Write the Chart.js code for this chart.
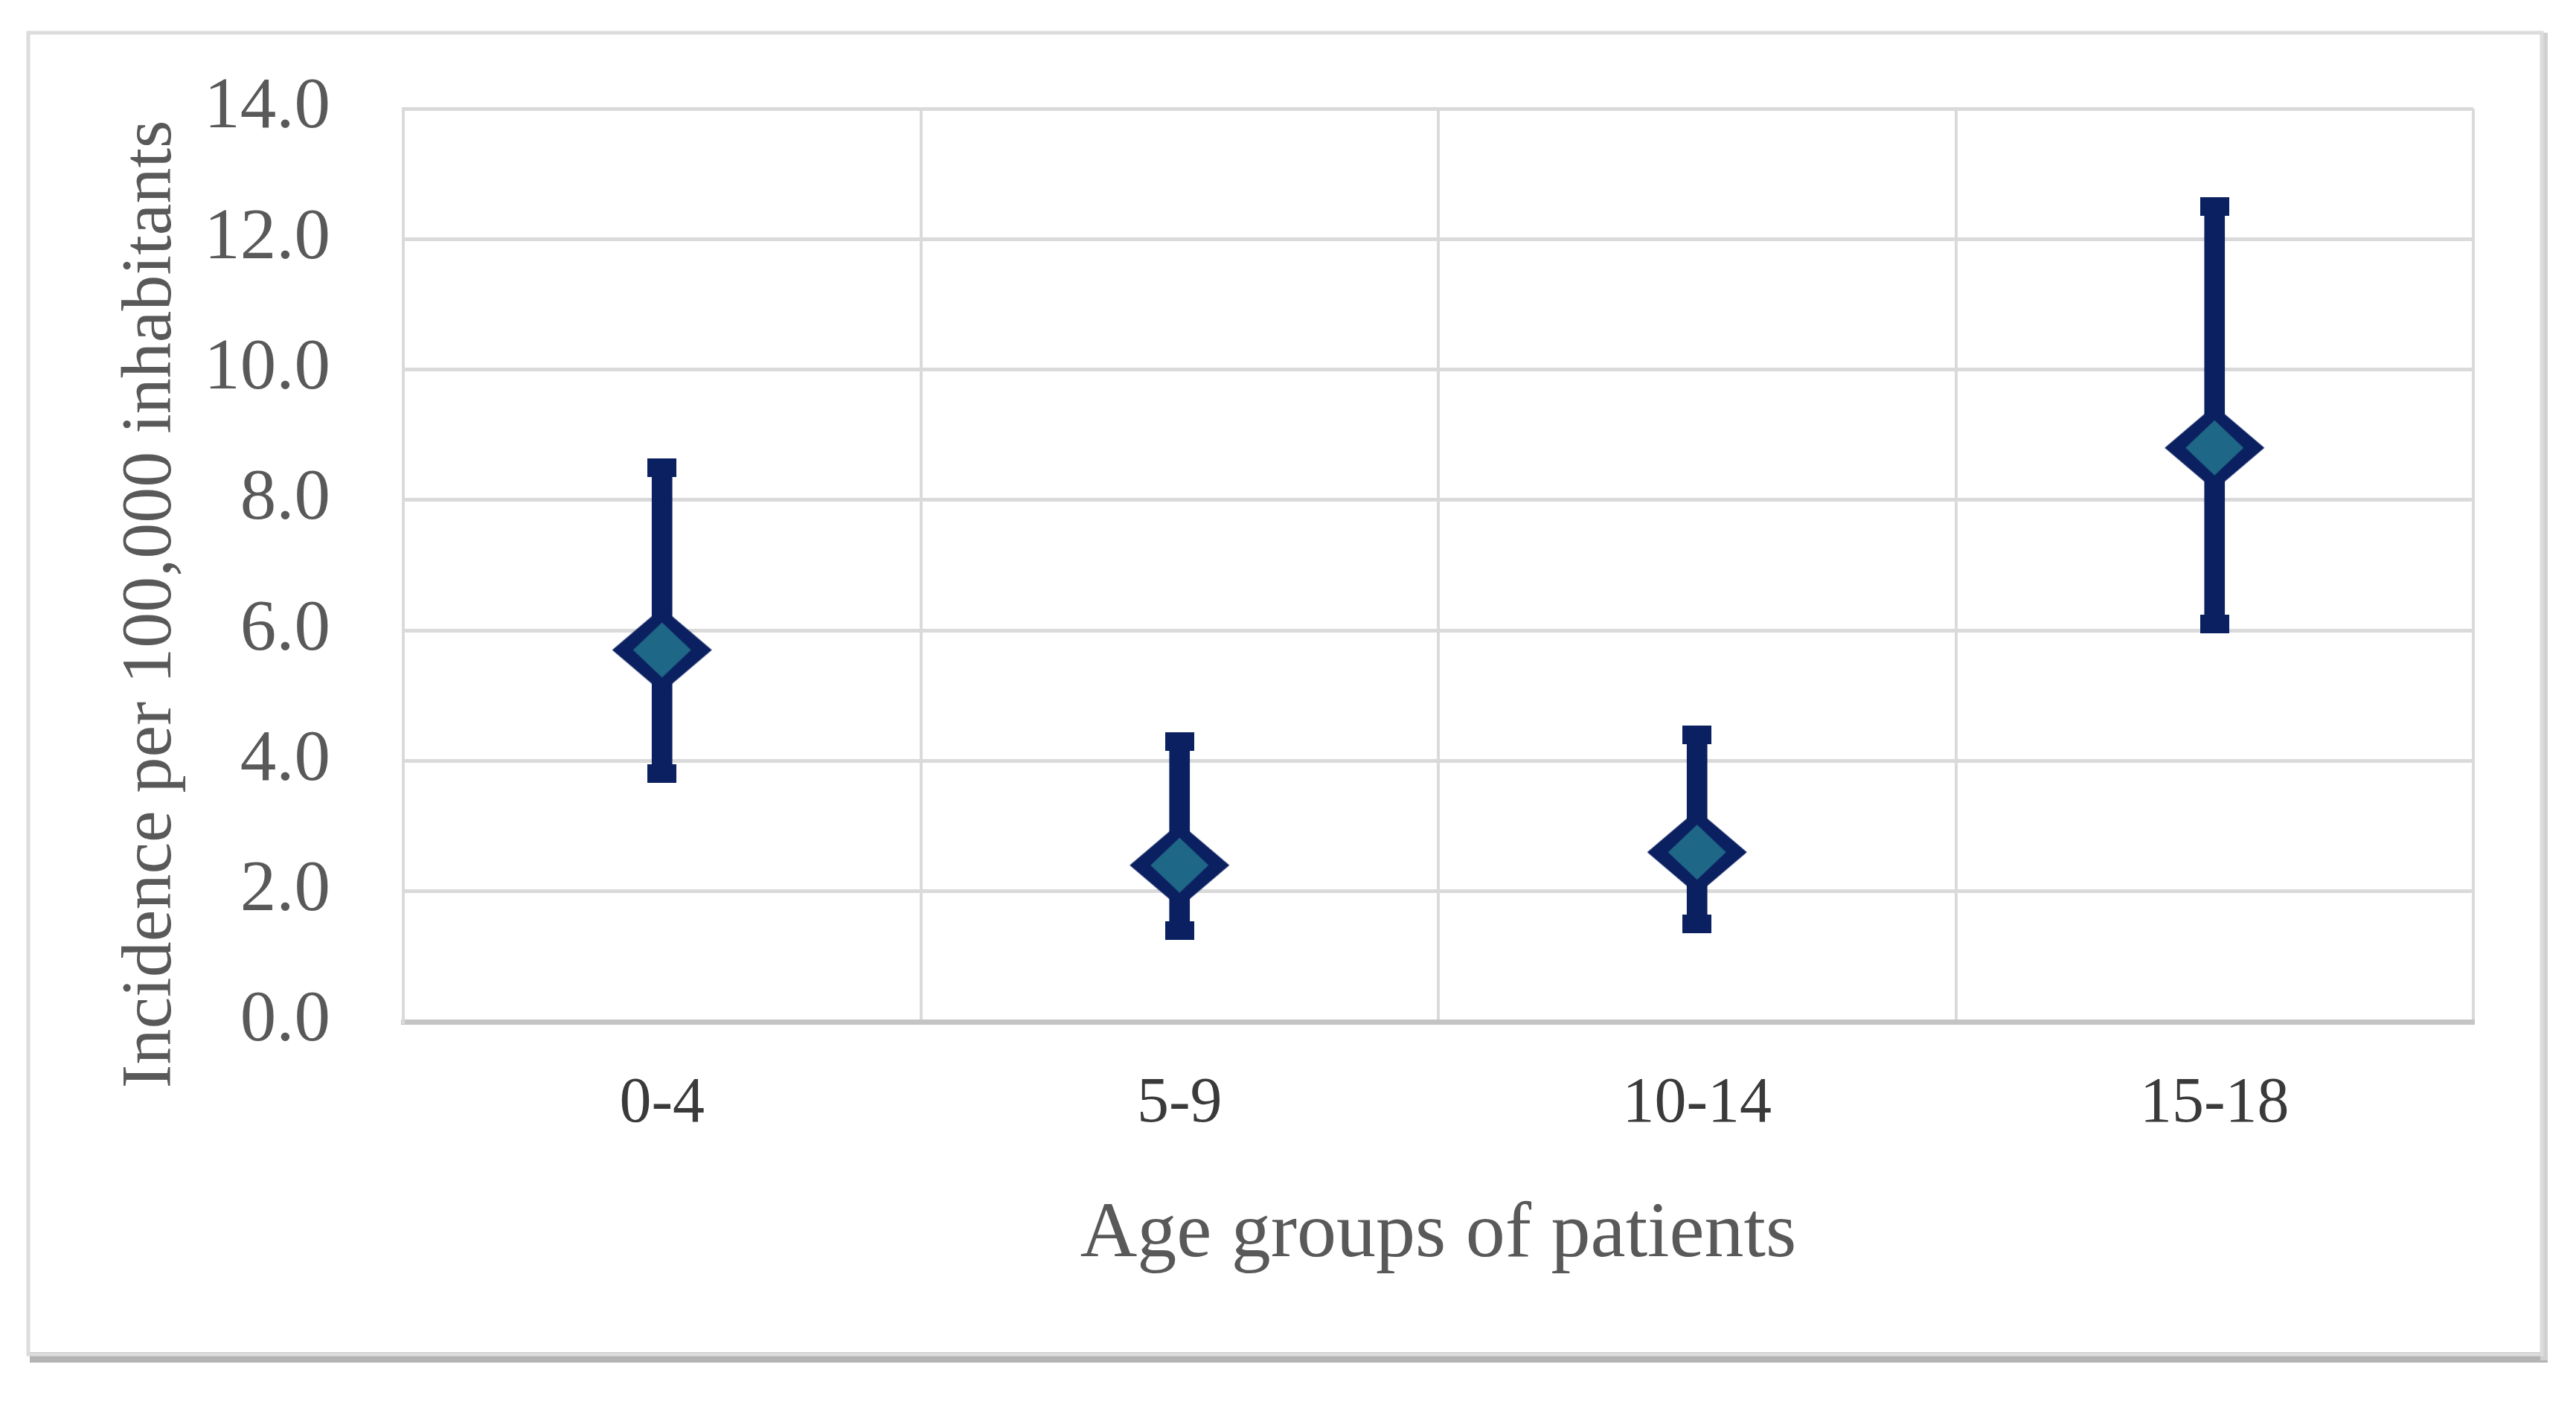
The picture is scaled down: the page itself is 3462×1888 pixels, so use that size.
<!DOCTYPE html>
<html>
<head>
<meta charset="utf-8">
<script src="https://cdn.jsdelivr.net/npm/chart.js@4.4.1/dist/chart.umd.min.js"></script>
<style>
  html, body { margin: 0; padding: 0; background: #fff; }
  canvas { display: block; }
</style>
</head>
<body>
<canvas id="myChart" width="3462" height="1888"></canvas>
<script>
// data
const ageGroups = ['0-4', '5-9', '10-14', '15-18'];
const incidence = [5.7, 2.4, 2.6, 8.8];
const ciLower = [3.8, 1.4, 1.5, 6.1];
const ciUpper = [8.5, 4.3, 4.4, 12.5];
const yTicks = [0, 2, 4, 6, 8, 10, 12, 14];
const yTitle = 'Incidence per 100,000 inhabitants';
const xTitle = 'Age groups of patients';

const navy = '#0b2060';
const teal = '#1f6787';
const serif = "'Palatino Linotype', 'Book Antiqua', Palatino, 'Liberation Serif', serif";

// diamond marker, a bit wider than tall like the original
function makeDiamond(){
  let c = document.createElement('canvas');
  c.width = 136; c.height = 116;
  let g = c.getContext('2d');
  g.fillStyle = navy;
  g.beginPath();
  g.moveTo(68, 1); g.lineTo(135, 58); g.lineTo(68, 115); g.lineTo(1, 58);
  g.closePath(); g.fill();
  g.fillStyle = teal;
  g.beginPath();
  g.moveTo(68, 21); g.lineTo(107, 58); g.lineTo(68, 95); g.lineTo(29, 58);
  g.closePath(); g.fill();
  return c;
}

function makeCap(){
  let c = document.createElement('canvas');
  c.width = 39; c.height = 25;
  let g = c.getContext('2d');
  g.fillStyle = navy;
  g.fillRect(0, 0, 39, 25);
  return c;
}

// white page + grey frame with shadow, like the exported figure
const framePlugin = {
  id: 'frame',
  beforeDraw(chart){
    const ctx = chart.ctx;
    ctx.save();
    ctx.fillStyle = '#ffffff';
    ctx.fillRect(0, 0, chart.width, chart.height);
    ctx.fillStyle = '#b3b3b3';
    ctx.fillRect(40, 1817, 3384, 14);
    ctx.fillStyle = '#d0d0d0';
    ctx.fillRect(3414, 44, 10, 1784);
    ctx.strokeStyle = '#dcdcdc';
    ctx.lineWidth = 5;
    ctx.strokeRect(38, 44, 3378, 1776);
    ctx.restore();
  },
  afterDraw(chart){
    // y title sits a little below the plot's middle in the original
    const ctx = chart.ctx;
    ctx.save();
    ctx.translate(204, 812);
    ctx.rotate(-Math.PI / 2);
    ctx.fillStyle = '#595959';
    ctx.font = '96px ' + serif;
    ctx.textAlign = 'center';
    ctx.textBaseline = 'middle';
    ctx.fillText(yTitle, 0, 0);
    ctx.restore();
  }
};

const stems = ciLower.map((lo, i) => [lo, ciUpper[i]]);

new Chart(document.getElementById('myChart'), {
  type: 'bar',
  data: {
    labels: ageGroups,
    datasets: [
      {
        type: 'line',
        label: 'Incidence',
        data: incidence,
        showLine: false,
        pointStyle: makeDiamond(),
        pointRadius: 5,
        order: 0
      },
      {
        type: 'line',
        label: 'Upper',
        data: ciUpper,
        showLine: false,
        pointStyle: makeCap(),
        pointRadius: 5,
        order: 1
      },
      {
        type: 'line',
        label: 'Lower',
        data: ciLower,
        showLine: false,
        pointStyle: makeCap(),
        pointRadius: 5,
        order: 1
      },
      {
        label: 'CI',
        data: stems,
        backgroundColor: navy,
        barThickness: 27,
        borderWidth: 0,
        order: 2
      }
    ]
  },
  options: {
    responsive: false,
    animation: false,
    devicePixelRatio: 1,
    layout: { padding: { left: 146, right: 138, top: 146, bottom: 130 } },
    plugins: {
      legend: { display: false },
      tooltip: { enabled: false }
    },
    scales: {
      x: {
        offset: true,
        afterFit(axis){ axis.height = 385; },
        grid: { offset: true, color: '#dadada', lineWidth: 4, drawTicks: false },
        border: { display: true, color: '#c4c4c4', width: 7 },
        ticks: { padding: 60, color: '#3a3a3a', font: { family: serif, size: 86 } },
        title: {
          display: true,
          text: xTitle,
          color: '#595959',
          font: { family: serif, size: 106 },
          padding: { top: 0, bottom: 34 }
        }
      },
      y: {
        min: 0,
        max: 14,
        afterFit(axis){
          axis.width = 396;
          // the big label gap shouldn't push the plot top down
          axis.paddingTop = 0;
          axis.paddingBottom = 0;
        },
        afterBuildTicks(axis){ axis.ticks = yTicks.map(v => ({ value: v })); },
        grid: {
          color: (c) => c.tick && c.tick.value === 0 ? 'rgba(0,0,0,0)' : '#dadada',
          lineWidth: 5,
          drawTicks: false
        },
        border: { display: true, color: '#dadada', width: 4 },
        ticks: {
          padding: 98,
          color: '#595959',
          font: { family: serif, size: 97 },
          callback: (v) => Number(v).toFixed(1)
        },
        title: { display: false }
      }
    }
  },
  plugins: [framePlugin]
});
</script>
</body>
</html>
